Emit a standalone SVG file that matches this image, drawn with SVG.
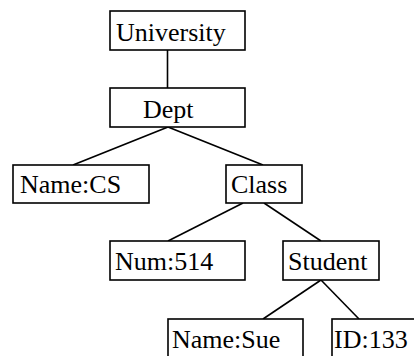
<svg xmlns="http://www.w3.org/2000/svg" width="414" height="356" viewBox="0 0 414 356">
<style>
rect{fill:#fff;stroke:#000;stroke-width:1.6}
line{stroke:#000;stroke-width:1.6}
text{font-family:"Liberation Serif","Times New Roman",serif;font-size:26px;fill:#000}
</style>
<rect x="0" y="0" width="414" height="356" style="fill:#fff;stroke:none"/>
<g id="connectors">
<line x1="167.5" y1="50" x2="167.5" y2="88"/>
<line x1="168" y1="127" x2="73" y2="165"/>
<line x1="168" y1="127" x2="263" y2="165"/>
<line x1="243" y1="203" x2="168" y2="241"/>
<line x1="264" y1="203" x2="321" y2="241"/>
<line x1="321" y1="280" x2="263" y2="319"/>
<line x1="321" y1="280" x2="359" y2="319"/>
</g>
<g id="university"><rect x="110" y="11" width="135" height="39"/><text x="116" y="41">University</text></g>
<g id="dept"><rect x="110" y="88" width="135" height="39"/><text x="143" y="118">Dept</text></g>
<g id="name-cs"><rect x="13" y="165" width="136" height="38"/><text x="20" y="193">Name:CS</text></g>
<g id="class"><rect x="226" y="165" width="76" height="38"/><text x="231" y="193">Class</text></g>
<g id="num-514"><rect x="110" y="241" width="135" height="39"/><text x="115" y="270">Num:514</text></g>
<g id="student"><rect x="283" y="241" width="96" height="39"/><text x="288" y="270">Student</text></g>
<g id="name-sue"><rect x="168" y="319" width="135" height="39"/><text x="172" y="348">Name:Sue</text></g>
<g id="id-133"><rect x="332" y="319" width="100" height="39"/><text x="334" y="348">ID:133</text></g>
</svg>
